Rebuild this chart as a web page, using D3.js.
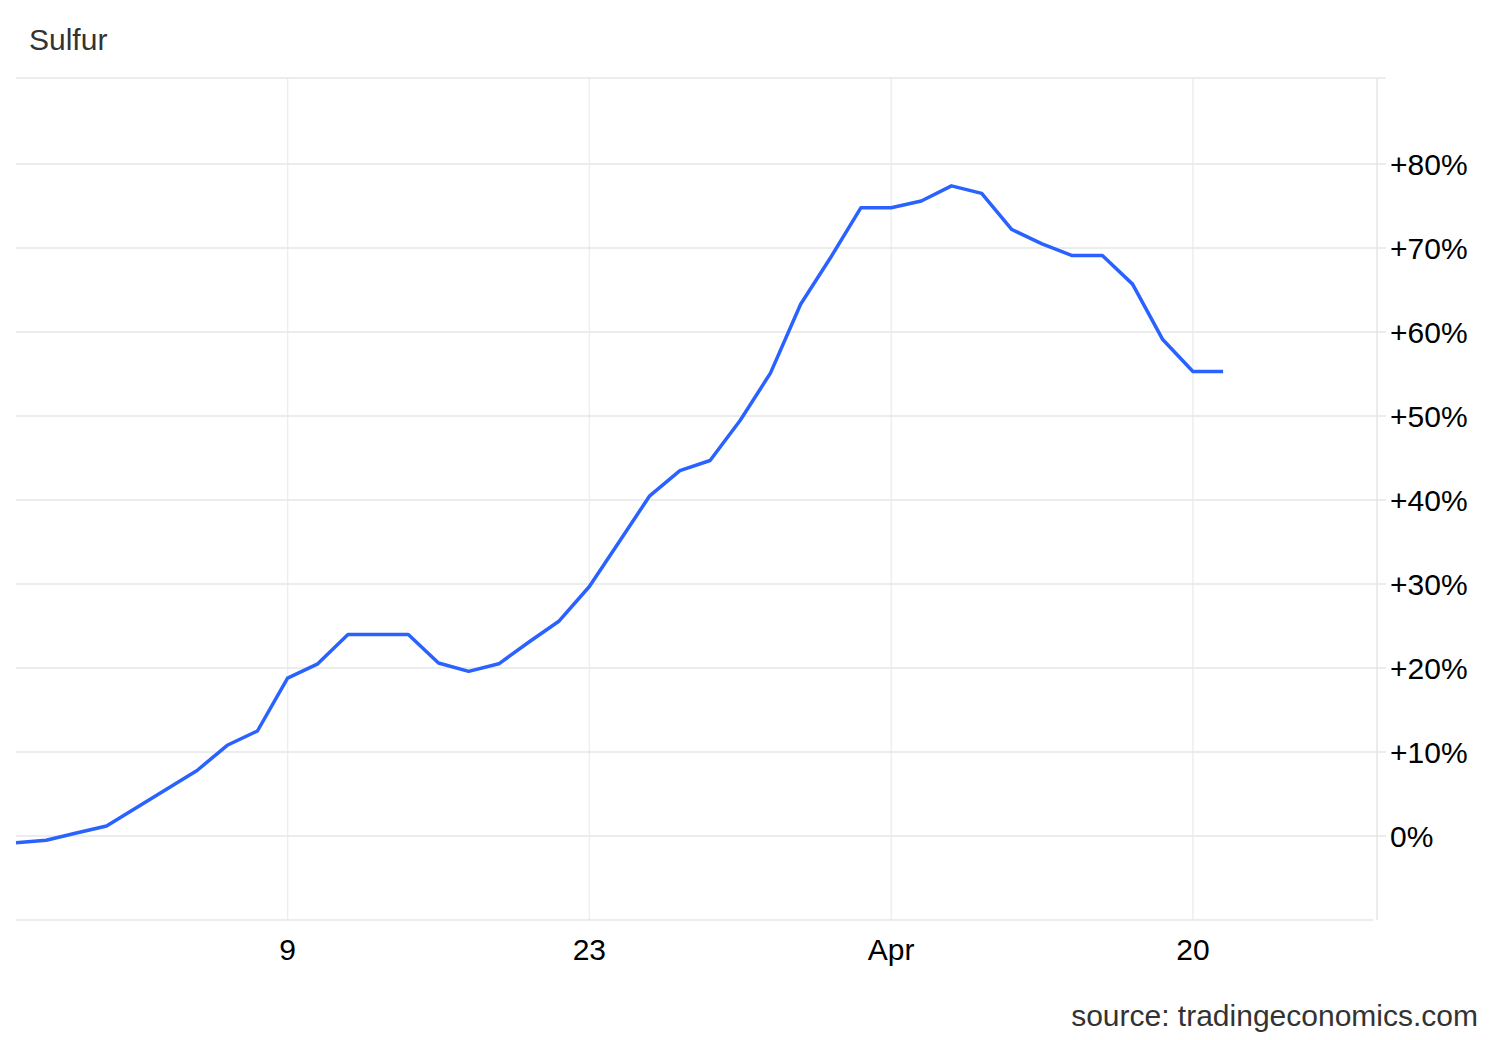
<!DOCTYPE html>
<html>
<head>
<meta charset="utf-8">
<script src="https://cdn.jsdelivr.net/npm/d3@7"></script>
<style>
  html, body { margin: 0; padding: 0; background: #fff; }
  svg { display: block; font-family: "Liberation Sans", Arial, sans-serif; }
</style>
</head>
<body>
<svg id="chart" width="1500" height="1040"></svg>
<script>
// Trading days (weekends skipped)
const dates = [
  "2026-02-24","2026-02-25","2026-02-26","2026-02-27",
  "2026-03-02","2026-03-03","2026-03-04","2026-03-05","2026-03-06",
  "2026-03-09","2026-03-10","2026-03-11","2026-03-12","2026-03-13",
  "2026-03-16","2026-03-17","2026-03-18","2026-03-19","2026-03-20",
  "2026-03-23","2026-03-24","2026-03-25","2026-03-26","2026-03-27",
  "2026-03-30","2026-03-31","2026-04-01","2026-04-02","2026-04-03",
  "2026-04-06","2026-04-07","2026-04-08","2026-04-09","2026-04-10",
  "2026-04-13","2026-04-14","2026-04-15","2026-04-16","2026-04-17",
  "2026-04-20","2026-04-21"
];
// Percent change
const values = [
  -0.8, -0.5, 0.35, 1.2,
  3.4, 5.6, 7.8, 10.8, 12.5,
  18.8, 20.5, 24.0, 24.0, 24.0,
  20.6, 19.6, 20.5, 23.1, 25.6,
  29.7, 35.1, 40.5, 43.5, 44.7,
  49.5, 55.1, 63.3, 68.9, 74.8,
  74.8, 75.6, 77.4, 76.5, 72.2,
  70.5, 69.1, 69.1, 65.7, 59.1,
  55.3, 55.3
];
const xTickDates = ["2026-03-09", "2026-03-23", "2026-04-06", "2026-04-20"];
const xTickLabels = ["9", "23", "Apr", "20"];
const yTicks = [0, 10, 20, 30, 40, 50, 60, 70, 80];
const yGridValues = [-10, 0, 10, 20, 30, 40, 50, 60, 70, 80];
const title = "Sulfur";
const source = "source: tradingeconomics.com";

const svg = d3.select("#chart");
const pLeft = 16, pRight = 1377, pTop = 78, pBottom = 920;

const x = d3.scaleLinear().domain([0, 45.1]).range([pLeft, pRight]);
const y = d3.scaleLinear().domain([-10, 90.24]).range([pBottom, pTop]);

// vertical grid
const xTickIdx = xTickDates.map(d => dates.indexOf(d));
svg.append("g").selectAll("line").data(xTickIdx).join("line")
  .attr("x1", d => x(d)).attr("x2", d => x(d))
  .attr("y1", pTop).attr("y2", pBottom)
  .attr("stroke", "#eceef2").attr("stroke-width", 1.5);

// horizontal grid
svg.append("g").selectAll("line").data(yGridValues).join("line")
  .attr("x1", pLeft).attr("x2", d => d === -10 ? pRight - 4 : pRight + 9)
  .attr("y1", d => y(d)).attr("y2", d => y(d))
  .attr("stroke", "#e6e6e6").attr("stroke-width", 1.5);

// top border
svg.append("line")
  .attr("x1", pLeft).attr("x2", pRight + 9)
  .attr("y1", pTop).attr("y2", pTop)
  .attr("stroke", "#e6e6e6").attr("stroke-width", 1.5);

// right axis line
svg.append("line")
  .attr("x1", pRight).attr("x2", pRight)
  .attr("y1", pTop).attr("y2", pBottom)
  .attr("stroke", "#e6e6e6").attr("stroke-width", 1.5);

// y tick labels
svg.append("g").selectAll("text").data(yTicks).join("text")
  .attr("x", pRight + 13).attr("y", d => y(d))
  .attr("dy", "0.35em")
  .attr("font-size", 30).attr("fill", "#000")
  .text(d => d === 0 ? "0%" : "+" + d + "%");

// x tick labels
svg.append("g").selectAll("text").data(xTickIdx).join("text")
  .attr("x", d => x(d)).attr("y", 960)
  .attr("text-anchor", "middle")
  .attr("font-size", 30).attr("fill", "#000")
  .text((d, i) => xTickLabels[i]);

// line
const line = d3.line().x((d, i) => x(i)).y(d => y(d));
svg.append("path").datum(values)
  .attr("d", line)
  .attr("fill", "none")
  .attr("stroke", "#2962ff")
  .attr("stroke-width", 3.5)
  .attr("stroke-linejoin", "round");

// title
svg.append("text").attr("x", 29).attr("y", 50)
  .attr("font-size", 30).attr("fill", "#333").text(title);

// source
svg.append("text").attr("x", 1478).attr("y", 1026)
  .attr("text-anchor", "end")
  .attr("font-size", 30).attr("fill", "#333").text(source);
</script>
</body>
</html>
